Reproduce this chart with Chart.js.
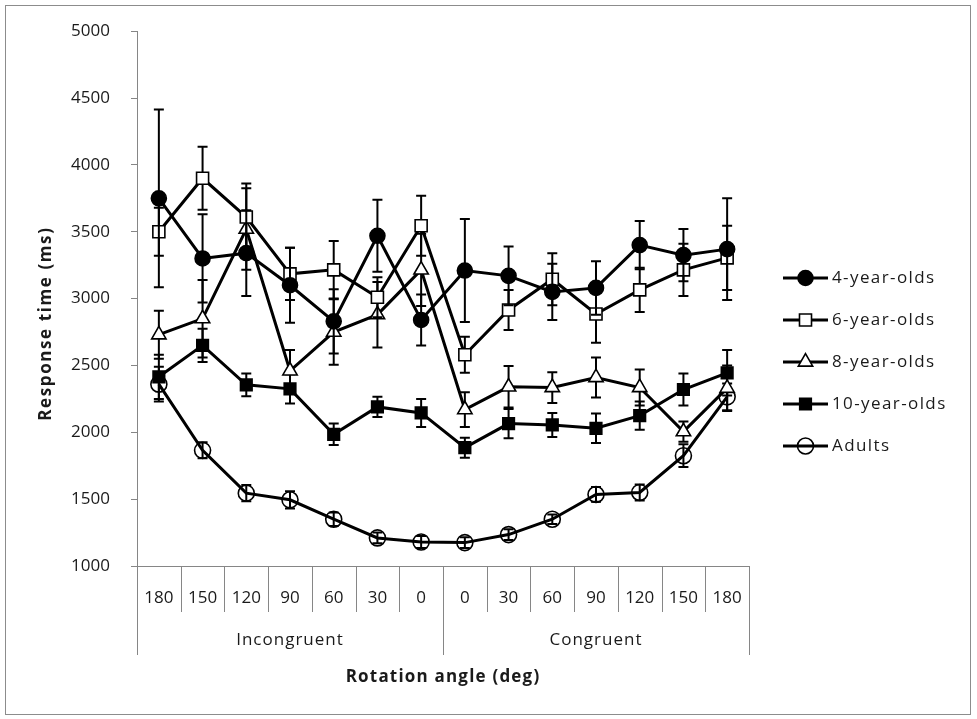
<!DOCTYPE html>
<html lang="en">
<head>
<meta charset="UTF-8">
<title>Response time by rotation angle</title>
<script src="https://cdn.jsdelivr.net/npm/chart.js"></script>
<style>
    body {
        margin: 0;
        padding: 0;
        background: #ffffff;
        font-family: 'Open Sans', sans-serif;
    }

    .frame {
        position: absolute;
        left: 5px;
        top: 5px;
        width: 964px;
        height: 708px;
        border: 1px solid #8c8c8c;
    }

    .chart-box {
        position: absolute;
        left: 0;
        top: 0;
        width: 977px;
        height: 719px;
    }
</style>
</head>
<body>
<div class="frame"></div>
<div class="chart-box"><canvas id="rtChart"></canvas></div>

<script>
    const angleLabels = ['180', '150', '120', '90', '60', '30', '0', '0', '30', '60', '90', '120', '150', '180'];
    const groupLabels = ['Incongruent', 'Congruent'];
    const groupSizes = [7, 7];
    const seriesNames = ['4-year-olds', '6-year-olds', '8-year-olds', '10-year-olds', 'Adults'];
    const xTitle = 'Rotation angle (deg)';
    const yTitle = 'Response time (ms)';

    // mean response time (ms) and error bar half-length
    const rt4 = [3750, 3300, 3340, 3100, 2830, 3470, 2840, 3210, 3170, 3050, 3080, 3400, 3325, 3370];
    const err4 = [665, 330, 320, 280, 240, 270, 190, 385, 220, 210, 200, 180, 195, 380];
    const rt6 = [3500, 3900, 3610, 3185, 3215, 3010, 3545, 2580, 2915, 3145, 2885, 3065, 3215, 3305];
    const err6 = [180, 235, 250, 195, 215, 150, 225, 135, 150, 195, 215, 165, 195, 240];
    const rt8 = [2730, 2850, 3520, 2460, 2750, 2880, 3215, 2170, 2340, 2335, 2410, 2335, 2005, 2330];
    const err8 = [180, 290, 305, 155, 245, 245, 270, 130, 155, 115, 150, 135, 75, 170];
    const rt10 = [2415, 2650, 2355, 2325, 1985, 2190, 2145, 1885, 2065, 2055, 2030, 2125, 2320, 2445];
    const err10 = [165, 125, 85, 110, 80, 75, 105, 75, 110, 90, 110, 105, 120, 170];
    const rtAdult = [2360, 1865, 1545, 1495, 1350, 1210, 1180, 1175, 1235, 1350, 1535, 1550, 1825, 2265];
    const errAdult = [130, 60, 60, 65, 50, 40, 45, 40, 40, 35, 55, 60, 85, 100];

    const axisGrey = '#868686';
    const textColor = '#1a1a1a';

    function makeSeries(name, values, errors, style, radius, fill) {
        return {
            label: name,
            data: values,
            errors: errors,
            borderColor: '#000000',
            borderWidth: 3,
            tension: 0,
            pointStyle: style,
            pointRadius: radius,
            pointHoverRadius: radius,
            pointBorderWidth: 1.6,
            pointBorderColor: '#000000',
            pointBackgroundColor: fill
        };
    }

    function drawMarker(ctx, style, x, y, r, fill) {
        ctx.beginPath();
        if (style === 'circle') {
            ctx.arc(x, y, r, 0, Math.PI * 2);
        } else if (style === 'rect') {
            const s = Math.SQRT1_2 * r;
            ctx.rect(x - s, y - s, 2 * s, 2 * s);
        } else if (style === 'triangle') {
            ctx.moveTo(x, y - r);
            ctx.lineTo(x + r * Math.sin(Math.PI * 2 / 3), y - r * Math.cos(Math.PI * 2 / 3));
            ctx.lineTo(x + r * Math.sin(Math.PI * 4 / 3), y - r * Math.cos(Math.PI * 4 / 3));
            ctx.closePath();
        }
        ctx.fillStyle = fill;
        ctx.fill();
        ctx.lineWidth = 1.6;
        ctx.strokeStyle = '#000000';
        ctx.stroke();
    }

    const errorBars = {
        id: 'errorBars',
        beforeDatasetDraw(chart, args) {
            const ds = chart.data.datasets[args.index];
            const yScale = chart.scales.y;
            const ctx = chart.ctx;
            ctx.save();
            ctx.strokeStyle = '#000000';
            ctx.lineWidth = 2;
            args.meta.data.forEach((pt, i) => {
                const top = yScale.getPixelForValue(ds.data[i] + ds.errors[i]);
                const bot = yScale.getPixelForValue(ds.data[i] - ds.errors[i]);
                ctx.beginPath();
                ctx.moveTo(pt.x, top);
                ctx.lineTo(pt.x, bot);
                ctx.moveTo(pt.x - 5, top);
                ctx.lineTo(pt.x + 5, top);
                ctx.moveTo(pt.x - 5, bot);
                ctx.lineTo(pt.x + 5, bot);
                ctx.stroke();
            });
            ctx.restore();
        }
    };

    // two-level category axis: separators, group names and the axis titles
    const groupAxis = {
        id: 'groupAxis',
        afterDraw(chart) {
            const xScale = chart.scales.x;
            const yScale = chart.scales.y;
            const ctx = chart.ctx;
            const half = (xScale.getPixelForValue(1) - xScale.getPixelForValue(0)) / 2;
            const edges = [0];
            groupSizes.forEach(n => edges.push(edges[edges.length - 1] + n));

            ctx.save();
            ctx.strokeStyle = axisGrey;
            ctx.lineWidth = 1;
            for (let i = 0; i <= angleLabels.length; i++) {
                const bx = Math.round(xScale.getPixelForValue(i) - half) + 0.5;
                const long = edges.includes(i);
                ctx.beginPath();
                ctx.moveTo(bx, xScale.top);
                ctx.lineTo(bx, long ? 655 : 612);
                ctx.stroke();
            }

            ctx.fillStyle = textColor;
            ctx.font = '17px "Open Sans"';
            ctx.letterSpacing = '1px';
            ctx.textAlign = 'center';
            ctx.textBaseline = 'middle';
            groupLabels.forEach((g, k) => {
                const a = xScale.getPixelForValue(edges[k]) - half;
                const b = xScale.getPixelForValue(edges[k + 1]) - half;
                ctx.fillText(g, (a + b) / 2, 640);
            });

            ctx.font = 'bold 17px "Open Sans"';
            ctx.letterSpacing = '1.2px';
            ctx.fillText(xTitle, (xScale.left + xScale.right) / 2, 677);

            ctx.translate(46, (yScale.top + yScale.bottom) / 2 + 25);
            ctx.rotate(-Math.PI / 2);
            ctx.letterSpacing = '1.6px';
            ctx.fillText(yTitle, 0, 0);
            ctx.restore();
        }
    };

    const sideLegend = {
        id: 'sideLegend',
        afterDraw(chart) {
            const ctx = chart.ctx;
            chart.data.datasets.forEach((ds, i) => {
                const cy = 278 + i * 42;
                ctx.save();
                ctx.strokeStyle = '#000000';
                ctx.lineWidth = 3;
                ctx.beginPath();
                ctx.moveTo(783, cy);
                ctx.lineTo(828, cy);
                ctx.stroke();
                drawMarker(ctx, ds.pointStyle, 805.5, cy, ds.pointRadius, ds.pointBackgroundColor);
                ctx.fillStyle = textColor;
                ctx.font = '17px "Open Sans"';
                ctx.letterSpacing = '1.4px';
                ctx.textAlign = 'left';
                ctx.textBaseline = 'middle';
                ctx.fillText(ds.label, 832, cy);
                ctx.restore();
            });
        }
    };

    new Chart(document.getElementById('rtChart'), {
        type: 'line',
        data: {
            labels: angleLabels,
            datasets: [
                makeSeries(seriesNames[0], rt4, err4, 'circle', 7.5, '#000000'),
                makeSeries(seriesNames[1], rt6, err6, 'rect', 8.5, '#ffffff'),
                makeSeries(seriesNames[2], rt8, err8, 'triangle', 8.3, '#ffffff'),
                makeSeries(seriesNames[3], rt10, err10, 'rect', 8.2, '#000000'),
                makeSeries(seriesNames[4], rtAdult, errAdult, 'circle', 8, 'rgba(0,0,0,0)')
            ]
        },
        options: {
            responsive: true,
            maintainAspectRatio: false,
            animation: false,
            events: [],
            layout: {
                padding: { left: 0, right: 228, top: 29, bottom: 0 }
            },
            plugins: {
                legend: { display: false },
                tooltip: { enabled: false }
            },
            scales: {
                x: {
                    offset: true,
                    grid: { display: false },
                    border: { display: true, color: axisGrey, width: 1 },
                    ticks: {
                        color: textColor,
                        font: { family: 'Open Sans', size: 17 },
                        padding: 14,
                        maxRotation: 0,
                        autoSkip: false
                    },
                    afterFit(scale) {
                        scale.height = 153;
                    }
                },
                y: {
                    min: 1000,
                    max: 5000,
                    grid: {
                        drawOnChartArea: false,
                        drawTicks: true,
                        tickLength: 6,
                        color: axisGrey
                    },
                    border: { display: true, color: axisGrey, width: 1 },
                    ticks: {
                        stepSize: 500,
                        color: textColor,
                        font: { family: 'Open Sans', size: 17 },
                        padding: 21,
                        callback: value => String(value)
                    },
                    afterFit(scale) {
                        scale.width = 137;
                    }
                }
            }
        },
        plugins: [errorBars, groupAxis, sideLegend]
    });
</script>
</body>
</html>
